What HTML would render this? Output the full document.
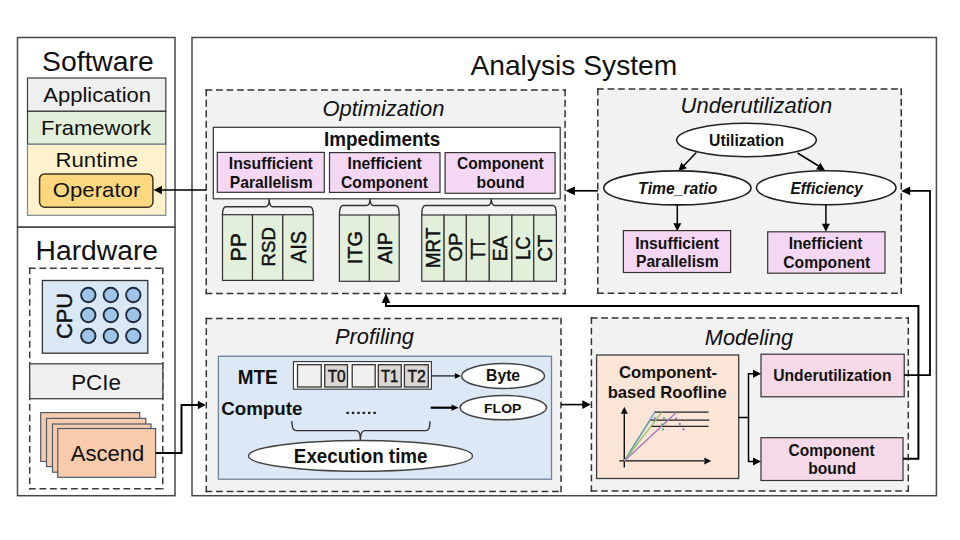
<!DOCTYPE html>
<html><head><meta charset="utf-8"><style>
html,body{margin:0;padding:0;background:#fff;}
svg{display:block;}
text{font-family:"Liberation Sans",sans-serif;font-kerning:none;}
</style></head><body>
<svg width="960" height="540" viewBox="0 0 960 540">
<rect width="960" height="540" fill="#fff"/>
<rect x="17.5" y="37.5" width="157.5" height="189.7" fill="#fff" stroke="#474747" stroke-width="1.5" />
<rect x="17.5" y="227.2" width="157.5" height="268.5" fill="#fff" stroke="#474747" stroke-width="1.5" />
<rect x="192" y="37.5" width="744.4" height="458.2" fill="#fff" stroke="#474747" stroke-width="1.5" />
<text transform="matrix(1.0378,0,0,1,42.01,70.8)" font-size="27.29" font-weight="normal" font-style="normal" fill="#111">Software</text>
<rect x="27.5" y="78" width="138.3" height="33.3" fill="#efefef" stroke="#3b3b3b" stroke-width="1.2" />
<rect x="27.5" y="111.3" width="138.3" height="33" fill="#e2efda" stroke="#3b3b3b" stroke-width="1.2" />
<rect x="27.5" y="144.3" width="138.3" height="71" fill="#fff2cc" stroke="#7a8594" stroke-width="1.2" />
<text transform="matrix(1.0684,0,0,1,43.26,101.7)" font-size="20.64" font-weight="normal" font-style="normal" fill="#111">Application</text>
<text transform="matrix(1.1376,0,0,1,41.1,135)" font-size="19.33" font-weight="normal" font-style="normal" fill="#111">Framework</text>
<text transform="matrix(1.0599,0,0,1,55.48,167.2)" font-size="20.93" font-weight="normal" font-style="normal" fill="#111">Runtime</text>
<rect x="39.6" y="173.9" width="113.3" height="33.3" rx="5" fill="#fdd87f" stroke="#3d3522" stroke-width="1.5"/>
<text transform="matrix(1.0793,0,0,1,52.75,197.2)" font-size="20.57" font-weight="normal" font-style="normal" fill="#111">Operator</text>
<text transform="matrix(1.0185,0,0,1,35.58,260.4)" font-size="27.76" font-weight="normal" font-style="normal" fill="#111">Hardware</text>
<path d="M28.95 268.3 L163.55 268.3" stroke="#3a3a3a" stroke-width="1.5" stroke-dasharray="6.8 3.7" fill="none"/>
<path d="M29.7 267.55 L29.7 489.55" stroke="#3a3a3a" stroke-width="1.5" stroke-dasharray="6.8 3.7" fill="none"/>
<path d="M162.8 267.55 L162.8 489.55" stroke="#3a3a3a" stroke-width="1.5" stroke-dasharray="6.8 3.7" fill="none"/>
<path d="M28.95 488.8 L163.55 488.8" stroke="#3a3a3a" stroke-width="1.5" stroke-dasharray="6.8 3.7" fill="none"/>
<rect x="42.4" y="280.5" width="105.4" height="72.7" fill="#dae8f5" stroke="#333" stroke-width="1.3" />
<circle cx="88.3" cy="295" r="7.2" fill="#9fc4e8" stroke="#1c2a3a" stroke-width="1.9"/>
<circle cx="88.3" cy="315.1" r="7.2" fill="#9fc4e8" stroke="#1c2a3a" stroke-width="1.9"/>
<circle cx="88.3" cy="335.9" r="7.2" fill="#9fc4e8" stroke="#1c2a3a" stroke-width="1.9"/>
<circle cx="110.8" cy="295" r="7.2" fill="#9fc4e8" stroke="#1c2a3a" stroke-width="1.9"/>
<circle cx="110.8" cy="315.1" r="7.2" fill="#9fc4e8" stroke="#1c2a3a" stroke-width="1.9"/>
<circle cx="110.8" cy="335.9" r="7.2" fill="#9fc4e8" stroke="#1c2a3a" stroke-width="1.9"/>
<circle cx="133.3" cy="295" r="7.2" fill="#9fc4e8" stroke="#1c2a3a" stroke-width="1.9"/>
<circle cx="133.3" cy="315.1" r="7.2" fill="#9fc4e8" stroke="#1c2a3a" stroke-width="1.9"/>
<circle cx="133.3" cy="335.9" r="7.2" fill="#9fc4e8" stroke="#1c2a3a" stroke-width="1.9"/>
<text transform="translate(71.5,339.11) rotate(-90) scale(0.9672,1)" font-size="22.57" font-weight="normal" fill="#111" stroke="#111" stroke-width="0.45">CPU</text>
<rect x="29.7" y="363.8" width="133.1" height="34.9" fill="#efefef" stroke="#444" stroke-width="1.3" />
<text transform="matrix(0.9886,0,0,1,71.16,389.5)" font-size="22.67" font-weight="normal" font-style="normal" fill="#111">PCIe</text>
<rect x="40.7" y="412.6" width="99" height="48.9" fill="#f8cbad" stroke="#4f5a6b" stroke-width="1.2" />
<rect x="46.5" y="418.4" width="99.2" height="48.2" fill="#f8cbad" stroke="#4f5a6b" stroke-width="1.2" />
<rect x="52.5" y="424" width="98.5" height="48.2" fill="#f8cbad" stroke="#4f5a6b" stroke-width="1.2" />
<rect x="57.75" y="428.5" width="97.85" height="48.8" fill="#f8cbad" stroke="#4f5a6b" stroke-width="1.2" />
<text transform="matrix(0.9853,0,0,1,70.86,461)" font-size="22.38" font-weight="normal" font-style="normal" fill="#111">Ascend</text>
<path d="M155.6 453 L181.5 453 L181.5 405 L198 405" fill="none" stroke="#000" stroke-width="2" stroke-linejoin="miter"/>
<path d="M205.8 405 L197.8 409.2 L197.8 400.8 Z" fill="#000"/>
<text transform="matrix(1.0108,0,0,1,470.44,74.6)" font-size="27.91" font-weight="normal" font-style="normal" fill="#111">Analysis System</text>
<rect x="206.25" y="90.1" width="358.85" height="203.3" fill="#f2f2f2"/>
<path d="M205.5 90.1 L565.85 90.1" stroke="#333" stroke-width="1.5" stroke-dasharray="6.8 3.7" fill="none"/>
<path d="M206.25 89.35 L206.25 294.15" stroke="#333" stroke-width="1.5" stroke-dasharray="6.8 3.7" fill="none"/>
<path d="M565.1 89.35 L565.1 294.15" stroke="#333" stroke-width="1.5" stroke-dasharray="6.8 3.7" fill="none"/>
<path d="M205.5 293.4 L565.85 293.4" stroke="#333" stroke-width="1.5" stroke-dasharray="6.8 3.7" fill="none"/>
<text transform="matrix(1.0360,0,0,1,322.41,115.9)" font-size="21.19" font-weight="normal" font-style="italic" fill="#111">Optimization</text>
<rect x="213.3" y="127.3" width="346.9" height="71.5" fill="#fff" stroke="#333" stroke-width="1.2" />
<text transform="matrix(0.9765,0,0,1,323.94,145.6)" font-size="19.33" font-weight="bold" font-style="normal" fill="#111">Impediments</text>
<rect x="217.3" y="152.4" width="107" height="39.9" fill="#f4d8f3" stroke="#333" stroke-width="1.2" />
<rect x="329.5" y="152.6" width="110.5" height="39.8" fill="#f4d8f3" stroke="#333" stroke-width="1.2" />
<rect x="445.1" y="152.6" width="110" height="40.7" fill="#f4d8f3" stroke="#333" stroke-width="1.2" />
<text transform="matrix(0.9844,0,0,1,228.85,168.9)" font-size="15.99" font-weight="bold" font-style="normal" fill="#111">Insufficient</text>
<text transform="matrix(0.9808,0,0,1,229.85,187.8)" font-size="15.99" font-weight="bold" font-style="normal" fill="#111">Parallelism</text>
<text transform="matrix(0.9833,0,0,1,347.55,168.9)" font-size="15.99" font-weight="bold" font-style="normal" fill="#111">Inefficient</text>
<text transform="matrix(0.9789,0,0,1,341.06,187.8)" font-size="15.99" font-weight="bold" font-style="normal" fill="#111">Component</text>
<text transform="matrix(0.9766,0,0,1,456.96,168.9)" font-size="15.99" font-weight="bold" font-style="normal" fill="#111">Component</text>
<text transform="matrix(0.9866,0,0,1,476.56,187.8)" font-size="15.99" font-weight="bold" font-style="normal" fill="#111">bound</text>
<path d="M222.5 215 Q222.5 206.7 226 206.7 L265.7 206.7 Q269.2 206.7 269.2 198.8 Q269.2 206.7 272.7 206.7 L309.8 206.7 Q313.3 206.7 313.3 215" fill="none" stroke="#333" stroke-width="1.4"/>
<path d="M339.4 215 Q339.4 205.5 342.9 205.5 L366.5 205.5 Q370 205.5 370 198.8 Q370 205.5 373.5 205.5 L395.7 205.5 Q399.2 205.5 399.2 215" fill="none" stroke="#333" stroke-width="1.4"/>
<path d="M421.75 215 Q421.75 205.5 425.25 205.5 L487.75 205.5 Q491.25 205.5 491.25 198.8 Q491.25 205.5 494.75 205.5 L552.9 205.5 Q556.4 205.5 556.4 215" fill="none" stroke="#333" stroke-width="1.4"/>
<rect x="222.5" y="214.7" width="30" height="65.7" fill="#e2efda" stroke="#333" stroke-width="1.2" />
<rect x="252.5" y="214.7" width="30.3" height="65.7" fill="#e2efda" stroke="#333" stroke-width="1.2" />
<rect x="282.8" y="214.7" width="30.5" height="65.7" fill="#e2efda" stroke="#333" stroke-width="1.2" />
<rect x="339.4" y="215" width="30" height="66.3" fill="#e2efda" stroke="#333" stroke-width="1.2" />
<rect x="369.4" y="215" width="29.8" height="66.3" fill="#e2efda" stroke="#333" stroke-width="1.2" />
<rect x="421.75" y="215" width="22.35" height="66.25" fill="#e2efda" stroke="#333" stroke-width="1.2" />
<rect x="444.1" y="215" width="22.3" height="66.25" fill="#e2efda" stroke="#333" stroke-width="1.2" />
<rect x="466.4" y="215" width="22.9" height="66.25" fill="#e2efda" stroke="#333" stroke-width="1.2" />
<rect x="489.3" y="215" width="22.6" height="66.25" fill="#e2efda" stroke="#333" stroke-width="1.2" />
<rect x="511.9" y="215" width="21.85" height="66.25" fill="#e2efda" stroke="#333" stroke-width="1.2" />
<rect x="533.75" y="215" width="22.65" height="66.25" fill="#e2efda" stroke="#333" stroke-width="1.2" />
<text transform="translate(246.1,261.44) rotate(-90) scale(0.9524,1)" font-size="22.24" font-weight="normal" fill="#111" stroke="#111" stroke-width="0.45">PP</text>
<text transform="translate(275.2,266.53) rotate(-90) scale(0.9733,1)" font-size="19.19" font-weight="normal" fill="#111" stroke="#111" stroke-width="0.45">RSD</text>
<text transform="translate(306.25,263.14) rotate(-90) scale(0.9150,1)" font-size="21.8" font-weight="normal" fill="#111" stroke="#111" stroke-width="0.45">AIS</text>
<text transform="translate(361.9,264.35) rotate(-90) scale(0.9559,1)" font-size="20.93" font-weight="normal" fill="#111" stroke="#111" stroke-width="0.45">ITG</text>
<text transform="translate(391.9,263.79) rotate(-90) scale(0.9813,1)" font-size="20.06" font-weight="normal" fill="#111" stroke="#111" stroke-width="0.45">AIP</text>
<text transform="translate(440.4,267.93) rotate(-90) scale(0.9566,1)" font-size="19.48" font-weight="normal" fill="#111" stroke="#111" stroke-width="0.45">MRT</text>
<text transform="translate(462.3,261.44) rotate(-90) scale(1.0570,1)" font-size="18.71" font-weight="normal" fill="#111" stroke="#111" stroke-width="0.45">OP</text>
<text transform="translate(484.6,259.79) rotate(-90) scale(0.8773,1)" font-size="19.77" font-weight="normal" fill="#111" stroke="#111" stroke-width="0.45">TT</text>
<text transform="translate(507.2,261.27) rotate(-90) scale(0.9693,1)" font-size="19.77" font-weight="normal" fill="#111" stroke="#111" stroke-width="0.45">EA</text>
<text transform="translate(529.7,260.12) rotate(-90) scale(0.9441,1)" font-size="19.57" font-weight="normal" fill="#111" stroke="#111" stroke-width="0.45">LC</text>
<text transform="translate(552,261.52) rotate(-90) scale(0.9865,1)" font-size="20.29" font-weight="normal" fill="#111" stroke="#111" stroke-width="0.45">CT</text>
<path d="M206 190 L162 190" fill="none" stroke="#000" stroke-width="1.6" stroke-linejoin="miter"/>
<path d="M153.5 190 L162 185.8 L162 194.2 Z" fill="#000"/>
<rect x="597.8" y="89.1" width="303.45" height="204.2" fill="#f2f2f2"/>
<path d="M597.05 89.1 L902 89.1" stroke="#333" stroke-width="1.5" stroke-dasharray="6.8 3.7" fill="none"/>
<path d="M597.8 88.35 L597.8 294.05" stroke="#333" stroke-width="1.5" stroke-dasharray="6.8 3.7" fill="none"/>
<path d="M901.25 88.35 L901.25 294.05" stroke="#333" stroke-width="1.5" stroke-dasharray="6.8 3.7" fill="none"/>
<path d="M597.05 293.3 L902 293.3" stroke="#333" stroke-width="1.5" stroke-dasharray="6.8 3.7" fill="none"/>
<text transform="matrix(1.0227,0,0,1,680.56,113.2)" font-size="21.51" font-weight="normal" font-style="italic" fill="#111">Underutilization</text>
<ellipse cx="746.5" cy="140" rx="69.8" ry="16.7" fill="#fff" stroke="#222" stroke-width="1.6"/>
<text transform="matrix(0.9666,0,0,1,709.05,145.6)" font-size="16.28" font-weight="bold" font-style="normal" fill="#111">Utilization</text>
<ellipse cx="677.4" cy="187.9" rx="73.6" ry="17" fill="#fff" stroke="#222" stroke-width="1.6"/>
<ellipse cx="826.2" cy="187.7" rx="69.8" ry="17" fill="#fff" stroke="#222" stroke-width="1.6"/>
<text transform="matrix(0.9734,0,0,1,638.09,193.8)" font-size="16.13" font-weight="bold" font-style="italic" fill="#111">Time_ratio</text>
<text transform="matrix(0.9419,0,0,1,790.53,193.8)" font-size="16.28" font-weight="bold" font-style="italic" fill="#111">Efficiency</text>
<path d="M696.3 152.4 L683 166.5" fill="none" stroke="#000" stroke-width="1.5" stroke-linejoin="miter"/>
<path d="M678.4 171.1 L681.23 162.61 L686.89 168.27 Z" fill="#000"/>
<path d="M797.5 153 L819.5 166.5" fill="none" stroke="#000" stroke-width="1.5" stroke-linejoin="miter"/>
<path d="M825 170.5 L816.1 169.58 L820.4 162.83 Z" fill="#000"/>
<path d="M677.3 204.7 L677.3 224" fill="none" stroke="#000" stroke-width="1.5" stroke-linejoin="miter"/>
<path d="M677.3 231.2 L673.3 223.2 L681.3 223.2 Z" fill="#000"/>
<path d="M825.9 204.7 L825.9 224" fill="none" stroke="#000" stroke-width="1.5" stroke-linejoin="miter"/>
<path d="M825.9 231.8 L821.9 223.8 L829.9 223.8 Z" fill="#000"/>
<rect x="623.4" y="230.6" width="107.2" height="41.9" fill="#f4d8f3" stroke="#333" stroke-width="1.2" />
<rect x="767.7" y="231.8" width="117.3" height="41.4" fill="#f4d8f3" stroke="#333" stroke-width="1.2" />
<text transform="matrix(0.9393,0,0,1,635.15,248.6)" font-size="16.72" font-weight="bold" font-style="normal" fill="#111">Insufficient</text>
<text transform="matrix(0.9370,0,0,1,635.95,266.6)" font-size="16.72" font-weight="bold" font-style="normal" fill="#111">Parallelism</text>
<text transform="matrix(0.9366,0,0,1,788.65,248.6)" font-size="16.72" font-weight="bold" font-style="normal" fill="#111">Inefficient</text>
<text transform="matrix(0.9374,0,0,1,783.26,267.6)" font-size="16.72" font-weight="bold" font-style="normal" fill="#111">Component</text>
<path d="M597.8 190.8 L573 190.8" fill="none" stroke="#000" stroke-width="1.7" stroke-linejoin="miter"/>
<path d="M565.4 190.8 L574.9 186.4 L574.9 195.2 Z" fill="#000"/>
<rect x="206.3" y="318.5" width="354.7" height="173" fill="#f2f2f2"/>
<path d="M205.55 318.5 L561.75 318.5" stroke="#333" stroke-width="1.5" stroke-dasharray="6.8 3.7" fill="none"/>
<path d="M206.3 317.75 L206.3 492.25" stroke="#333" stroke-width="1.5" stroke-dasharray="6.8 3.7" fill="none"/>
<path d="M561 317.75 L561 492.25" stroke="#333" stroke-width="1.5" stroke-dasharray="6.8 3.7" fill="none"/>
<path d="M205.55 491.5 L561.75 491.5" stroke="#333" stroke-width="1.5" stroke-dasharray="6.8 3.7" fill="none"/>
<text transform="matrix(0.9854,0,0,1,334.93,343.9)" font-size="22.24" font-weight="normal" font-style="italic" fill="#111">Profiling</text>
<rect x="218.4" y="356.25" width="333.1" height="122.95" fill="#dce8f5" stroke="#6c8299" stroke-width="1.3" />
<text transform="matrix(0.9563,0,0,1,237.64,384.4)" font-size="19.77" font-weight="bold" font-style="normal" fill="#111">MTE</text>
<rect x="293.4" y="361.6" width="138" height="27.6" fill="#fff" stroke="#333" stroke-width="1.1" />
<rect x="297.5" y="364.7" width="23.75" height="22.3" fill="#f0f0f0" stroke="#333" stroke-width="1.3" />
<rect x="324.7" y="364.7" width="22.8" height="22.3" fill="#d9d6d4" stroke="#333" stroke-width="1.3" />
<rect x="352.2" y="364.7" width="23" height="22.3" fill="#f0f0f0" stroke="#333" stroke-width="1.3" />
<rect x="378.3" y="364.7" width="22.95" height="22.3" fill="#d9d6d4" stroke="#333" stroke-width="1.3" />
<rect x="404.4" y="364.7" width="23.9" height="22.3" fill="#d9d6d4" stroke="#333" stroke-width="1.3" />
<text transform="matrix(0.9618,0,0,1,327.65,382.2)" font-size="15.99" font-weight="normal" font-style="normal" fill="#111" stroke="#111" stroke-width="0.45">T0</text>
<text transform="matrix(0.9221,0,0,1,380.97,382.3)" font-size="16.13" font-weight="normal" font-style="normal" fill="#111" stroke="#111" stroke-width="0.45">T1</text>
<text transform="matrix(0.9743,0,0,1,407.45,382.3)" font-size="16.13" font-weight="normal" font-style="normal" fill="#111" stroke="#111" stroke-width="0.45">T2</text>
<path d="M431.4 375.9 L456 375.9" fill="none" stroke="#222" stroke-width="1.3" stroke-linejoin="miter"/>
<path d="M460.9 375.9 L454.9 378.7 L454.9 373.1 Z" fill="#000"/>
<ellipse cx="503.1" cy="376" rx="41.5" ry="12.5" fill="#fff" stroke="#444" stroke-width="1.5"/>
<text transform="matrix(0.9973,0,0,1,486.05,381.25)" font-size="15.77" font-weight="bold" font-style="normal" fill="#111">Byte</text>
<path d="M430.7 407.7 L453 407.7" fill="none" stroke="#000" stroke-width="2.2" stroke-linejoin="miter"/>
<path d="M458.6 407.7 L451.6 410.8 L451.6 404.6 Z" fill="#000"/>
<ellipse cx="503.3" cy="407.6" rx="43.3" ry="12.2" fill="#fff" stroke="#444" stroke-width="1.5"/>
<text transform="matrix(1.0271,0,0,1,484.06,412.9)" font-size="13.66" font-weight="bold" font-style="normal" fill="#111">FLOP</text>
<text transform="matrix(1.0117,0,0,1,221.13,414.6)" font-size="18.57" font-weight="bold" font-style="normal" fill="#111">Compute</text>
<rect x="346.5" y="411.7" width="2.4" height="2.4" rx="0.6" fill="#1a1a1a"/>
<rect x="351.88" y="411.7" width="2.4" height="2.4" rx="0.6" fill="#1a1a1a"/>
<rect x="357.26" y="411.7" width="2.4" height="2.4" rx="0.6" fill="#1a1a1a"/>
<rect x="362.64" y="411.7" width="2.4" height="2.4" rx="0.6" fill="#1a1a1a"/>
<rect x="368.02" y="411.7" width="2.4" height="2.4" rx="0.6" fill="#1a1a1a"/>
<rect x="373.4" y="411.7" width="2.4" height="2.4" rx="0.6" fill="#1a1a1a"/>
<path d="M291.8 421.1 Q291.8 430.6 296 430.6 L356.2 430.6 Q360.4 430.6 360.4 440 Q360.4 430.6 364.6 430.6 L426 430.6 Q430 430.6 430 421.2" fill="none" stroke="#333" stroke-width="1.4"/>
<ellipse cx="360.5" cy="455.9" rx="112" ry="15.4" fill="#fff" stroke="#444" stroke-width="1.4"/>
<text transform="matrix(0.9587,0,0,1,293.84,463)" font-size="19.62" font-weight="bold" font-style="normal" fill="#111">Execution time</text>
<path d="M561 404.6 L583 404.6" fill="none" stroke="#000" stroke-width="1.6" stroke-linejoin="miter"/>
<path d="M590.8 404.6 L582.3 409 L582.3 400.2 Z" fill="#000"/>
<rect x="591.4" y="318" width="316.9" height="172.9" fill="#f2f2f2"/>
<path d="M590.65 318 L909.05 318" stroke="#333" stroke-width="1.5" stroke-dasharray="6.8 3.7" fill="none"/>
<path d="M591.4 317.25 L591.4 491.65" stroke="#333" stroke-width="1.5" stroke-dasharray="6.8 3.7" fill="none"/>
<path d="M908.3 317.25 L908.3 491.65" stroke="#333" stroke-width="1.5" stroke-dasharray="6.8 3.7" fill="none"/>
<path d="M590.65 490.9 L909.05 490.9" stroke="#333" stroke-width="1.5" stroke-dasharray="6.8 3.7" fill="none"/>
<text transform="matrix(1.0272,0,0,1,704.73,345.2)" font-size="21.22" font-weight="normal" font-style="italic" fill="#111">Modeling</text>
<rect x="596.6" y="355" width="142.1" height="123.5" fill="#fbe5d6" stroke="#3b3b3b" stroke-width="1.3" />
<text transform="matrix(1.0343,0,0,1,618.92,378.1)" font-size="16.13" font-weight="bold" font-style="normal" fill="#111">Component-</text>
<text transform="matrix(1.0305,0,0,1,607.65,397.6)" font-size="16.13" font-weight="bold" font-style="normal" fill="#111">based Roofline</text>
<path d="M624.3 467.4 L624.3 413" fill="none" stroke="#111" stroke-width="1.4" stroke-linejoin="miter"/>
<path d="M624.3 406.7 L627.8 413.7 L620.8 413.7 Z" fill="#111"/>
<path d="M619.3 460.9 L704 460.9" fill="none" stroke="#111" stroke-width="1.4" stroke-linejoin="miter"/>
<path d="M711.3 460.9 L704.3 464.4 L704.3 457.4 Z" fill="#111"/>
<path d="M654.4 412.2 L708.5 412.2" fill="none" stroke="#222" stroke-width="1.2" stroke-linejoin="miter"/>
<path d="M650.2 420.2 L709.4 420.2" fill="none" stroke="#222" stroke-width="1.2" stroke-linejoin="miter"/>
<path d="M651.1 426.3 L708.5 426.3" fill="none" stroke="#222" stroke-width="1.2" stroke-linejoin="miter"/>
<path d="M624.3 460.9 L654.6 412.3" fill="none" stroke="#7f95d8" stroke-width="1.3" stroke-linejoin="miter"/>
<path d="M624.3 460.9 L650 420.4" fill="none" stroke="#5aa6a0" stroke-width="1.3" stroke-linejoin="miter"/>
<path d="M624.3 460.9 L661.7 412.3" fill="none" stroke="#8cc26a" stroke-width="1.3" stroke-linejoin="miter"/>
<path d="M624.3 460.9 L676.6 412.3" fill="none" stroke="#a874bc" stroke-width="1.3" stroke-linejoin="miter"/>
<circle cx="654.8" cy="418.1" r="1.1" fill="#6b7fd0"/>
<circle cx="664" cy="418" r="1.1" fill="#3cb371"/>
<circle cx="662.2" cy="424.3" r="1.1" fill="#3cb371"/>
<circle cx="663.1" cy="429.3" r="1.1" fill="#3cb371"/>
<circle cx="676.1" cy="418.7" r="1.1" fill="#9060b0"/>
<circle cx="679.8" cy="423.9" r="1.1" fill="#9060b0"/>
<circle cx="683.5" cy="429.3" r="1.1" fill="#9060b0"/>
<rect x="761" y="354.2" width="143.2" height="42.6" fill="#f6d9e6" stroke="#333" stroke-width="1.2" />
<rect x="761" y="437.7" width="142" height="42.8" fill="#f6d9e6" stroke="#333" stroke-width="1.2" />
<text transform="matrix(0.9451,0,0,1,773.26,380.5)" font-size="16.57" font-weight="bold" font-style="normal" fill="#111">Underutilization</text>
<text transform="matrix(0.9969,0,0,1,788.56,456.1)" font-size="15.57" font-weight="bold" font-style="normal" fill="#111">Component</text>
<text transform="matrix(0.9781,0,0,1,808.27,473.5)" font-size="15.99" font-weight="bold" font-style="normal" fill="#111">bound</text>
<path d="M738.7 417.5 L748.5 417.5 L748.5 373.8 L753 373.8" fill="none" stroke="#000" stroke-width="1.5" stroke-linejoin="miter"/>
<path d="M761 373.8 L753 377.8 L753 369.8 Z" fill="#000"/>
<path d="M748.5 417.5 L748.5 461.5 L753 461.5" fill="none" stroke="#000" stroke-width="1.5" stroke-linejoin="miter"/>
<path d="M761 461.5 L753 465.5 L753 457.5 Z" fill="#000"/>
<path d="M904.2 375.2 L930 375.2 L930 190.9 L908 190.9" fill="none" stroke="#000" stroke-width="1.8" stroke-linejoin="miter"/>
<path d="M901.2 190.9 L910.2 186.6 L910.2 195.2 Z" fill="#000"/>
<path d="M903 458.7 L918.4 458.7 L918.4 306 L386 306 L386 301" fill="none" stroke="#000" stroke-width="2" stroke-linejoin="miter"/>
<path d="M386 293.6 L390.3 303.1 L381.7 303.1 Z" fill="#000"/>
</svg>
</body></html>
